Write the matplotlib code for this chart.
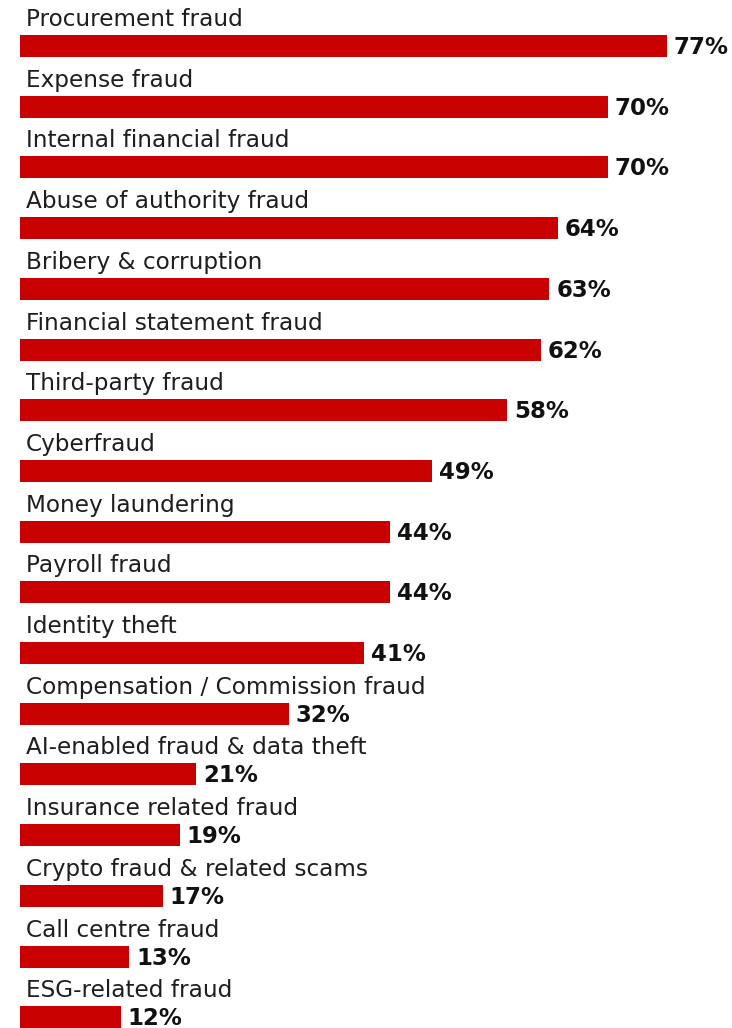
import matplotlib
matplotlib.use("Agg")
import matplotlib.pyplot as plt
import numpy as np

categories = [
    "Procurement fraud",
    "Expense fraud",
    "Internal financial fraud",
    "Abuse of authority fraud",
    "Bribery & corruption",
    "Financial statement fraud",
    "Third-party fraud",
    "Cyberfraud",
    "Money laundering",
    "Payroll fraud",
    "Identity theft",
    "Compensation / Commission fraud",
    "AI-enabled fraud & data theft",
    "Insurance related fraud",
    "Crypto fraud & related scams",
    "Call centre fraud",
    "ESG-related fraud",
]
values = [77, 70, 70, 64, 63, 62, 58, 49, 44, 44, 41, 32, 21, 19, 17, 13, 12]

BAR_COLOR = "#C80000"
W, H = 732, 1028
PX_PER_PCT = 8.4      # horizontal scale
X0_PX = 20            # left edge of bars
ROW_PX = 60.7         # vertical pitch between rows
FIRST_CENTER_PX = 46  # centre of first bar
BAR_PX = 22

plt.rcParams["font.family"] = ["DejaVu Sans"]

fig = plt.figure(figsize=(W / 100, H / 100), dpi=100)
ax = fig.add_axes([0, 0, 1, 1])
ax.set_xlim(-X0_PX / PX_PER_PCT, (W - X0_PX) / PX_PER_PCT)
ax.set_ylim((H - FIRST_CENTER_PX) / ROW_PX, -FIRST_CENTER_PX / ROW_PX)
ax.axis("off")

y = np.arange(len(categories))
ax.barh(y, values, height=BAR_PX / ROW_PX, left=0, color=BAR_COLOR)

for i, (cat, val) in enumerate(zip(categories, values)):
    # category name sits just above its bar
    ax.text(6 / PX_PER_PCT, i - 20 / ROW_PX, cat, ha="left", va="baseline",
            fontsize=16.7, color="#1e1e1e")
    # bold percentage to the right of the bar end
    ax.text(val + 7 / PX_PER_PCT, i + 8 / ROW_PX, f"{val}%", ha="left", va="baseline",
            fontsize=16.5, fontweight="bold", color="#111111")

fig.savefig("out.png", dpi=100, facecolor="white")
